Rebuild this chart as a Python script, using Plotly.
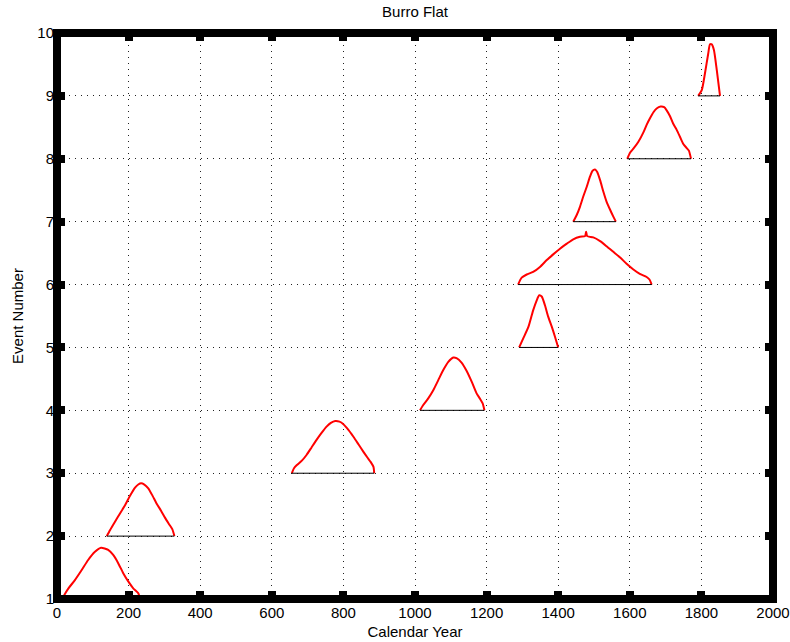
import plotly.graph_objects as go

# Probability curves for each event: calendar year and relative density above the event's baseline
ev1_year = [15, 22, 32, 50, 69, 87, 106, 123, 143, 157, 171, 185, 199, 213, 227, 232]
ev1_pdf = [0, 0.08, 0.17, 0.30, 0.46, 0.62, 0.75, 0.815, 0.78, 0.70, 0.57, 0.41, 0.28, 0.17, 0.09, 0]

ev2_year = [139, 148, 162, 176, 190, 204, 218, 227, 235, 244, 255, 267, 278, 291, 302, 313, 322, 328]
ev2_pdf = [0, 0.095, 0.23, 0.36, 0.49, 0.64, 0.77, 0.82, 0.84, 0.82, 0.76, 0.64, 0.52, 0.40, 0.29, 0.19, 0.11, 0]

ev3_year = [656, 662, 670, 684, 697, 711, 725, 739, 753, 765, 777, 789, 800, 814, 828, 842, 856, 867, 876, 884, 886]
ev3_pdf = [0, 0.08, 0.13, 0.20, 0.29, 0.41, 0.53, 0.64, 0.74, 0.80, 0.83, 0.82, 0.78, 0.69, 0.58, 0.46, 0.34, 0.25, 0.18, 0.10, 0]

ev4_year = [1014, 1023, 1037, 1051, 1065, 1079, 1093, 1107, 1116, 1130, 1144, 1158, 1172, 1182, 1189, 1194]
ev4_pdf = [0, 0.085, 0.19, 0.32, 0.48, 0.64, 0.77, 0.84, 0.83, 0.76, 0.63, 0.46, 0.27, 0.18, 0.11, 0]

ev5_year = [1291, 1302, 1317, 1330, 1340, 1347, 1354, 1363, 1372, 1382, 1391, 1400]
ev5_pdf = [0, 0.14, 0.33, 0.59, 0.75, 0.83, 0.81, 0.67, 0.49, 0.33, 0.17, 0]

ev6_year = [1288, 1298, 1312, 1330, 1349, 1368, 1386, 1405, 1424, 1442, 1461, 1475, 1478, 1481,
            1498, 1517, 1535, 1554, 1573, 1591, 1610, 1628, 1647, 1655, 1661]
ev6_pdf = [0, 0.11, 0.16, 0.20, 0.28, 0.39, 0.48, 0.57, 0.65, 0.72, 0.76, 0.77, 0.84, 0.77,
           0.75, 0.69, 0.61, 0.52, 0.43, 0.33, 0.24, 0.17, 0.12, 0.08, 0]

ev7_year = [1442, 1452, 1461, 1470, 1480, 1489, 1496, 1503, 1509, 1517, 1526, 1535, 1545, 1554, 1561]
ev7_pdf = [0, 0.11, 0.24, 0.40, 0.56, 0.72, 0.81, 0.83, 0.79, 0.66, 0.48, 0.32, 0.19, 0.08, 0]

ev8_year = [1593, 1601, 1610, 1624, 1638, 1647, 1656, 1666, 1675, 1686, 1696, 1703, 1712, 1721,
            1731, 1740, 1749, 1759, 1765, 1771]
ev8_pdf = [0, 0.10, 0.16, 0.27, 0.42, 0.54, 0.64, 0.74, 0.80, 0.83, 0.82, 0.77, 0.68, 0.56,
           0.46, 0.35, 0.24, 0.17, 0.13, 0]

ev9_year = [1791, 1801, 1810, 1819, 1824, 1829, 1835, 1843, 1852]
ev9_pdf = [0, 0.09, 0.36, 0.67, 0.82, 0.82, 0.73, 0.41, 0]

event_numbers = [1, 2, 3, 4, 5, 6, 7, 8, 9]
x_ticks = [0, 200, 400, 600, 800, 1000, 1200, 1400, 1600, 1800, 2000]
y_ticks = [1, 2, 3, 4, 5, 6, 7, 8, 9, 10]

curves = [
    (ev1_year, ev1_pdf), (ev2_year, ev2_pdf), (ev3_year, ev3_pdf),
    (ev4_year, ev4_pdf), (ev5_year, ev5_pdf), (ev6_year, ev6_pdf),
    (ev7_year, ev7_pdf), (ev8_year, ev8_pdf), (ev9_year, ev9_pdf),
]

FONT = "Liberation Sans, Arial, Helvetica, sans-serif"
FS = 15

fig = go.Figure()

for n, (yrs, pdf) in zip(event_numbers, curves):
    fig.add_trace(go.Scatter(
        x=yrs, y=[n + p for p in pdf], mode="lines",
        line=dict(color="#ff0000", width=2, shape="spline", smoothing=0.6),
        hoverinfo="skip", showlegend=False,
    ))
    # black baseline under each curve
    fig.add_trace(go.Scatter(
        x=[yrs[0], yrs[-1]], y=[n, n], mode="lines",
        line=dict(color="#000000", width=1), hoverinfo="skip", showlegend=False,
    ))

axis_common = dict(
    showline=False,
    zeroline=False,
    automargin=False,
    showgrid=True,
    gridcolor="#222222",
    gridwidth=1,
    griddash="1px,5px",
    ticks="inside",
    ticklen=8,
    tickwidth=8,
    tickcolor="black",
    mirror="ticks",
    tickfont=dict(family=FONT, size=FS, color="black"),
)

fig.update_xaxes(
    range=[0, 2000], tickvals=x_ticks, ticktext=[str(v) for v in x_ticks],
    title=dict(text="Calendar Year", font=dict(family=FONT, size=FS, color="black"), standoff=6),
    ticklabelstandoff=3,
    **axis_common,
)
fig.update_yaxes(
    range=[1, 10], tickvals=y_ticks, ticktext=[str(v) for v in y_ticks],
    title=dict(text="Event Number", font=dict(family=FONT, size=FS, color="black"), standoff=10),
    ticklabelstandoff=2,
    **axis_common,
)

# heavy axes frame
fig.add_shape(
    type="rect", xref="paper", yref="paper", x0=0, x1=1, y0=0, y1=1,
    line=dict(color="black", width=8), layer="above",
)

fig.update_layout(
    width=790, height=642,
    margin=dict(l=57, r=17, t=33, b=43, autoexpand=False),
    paper_bgcolor="white", plot_bgcolor="white",
    title=dict(text="Burro Flat", x=0.5, xanchor="center", xref="paper",
               y=1 - 12 / 642, yanchor="middle",
               font=dict(family=FONT, size=FS, color="black")),
    font=dict(family=FONT, size=FS, color="black"),
)

fig.write_html("out.html")
